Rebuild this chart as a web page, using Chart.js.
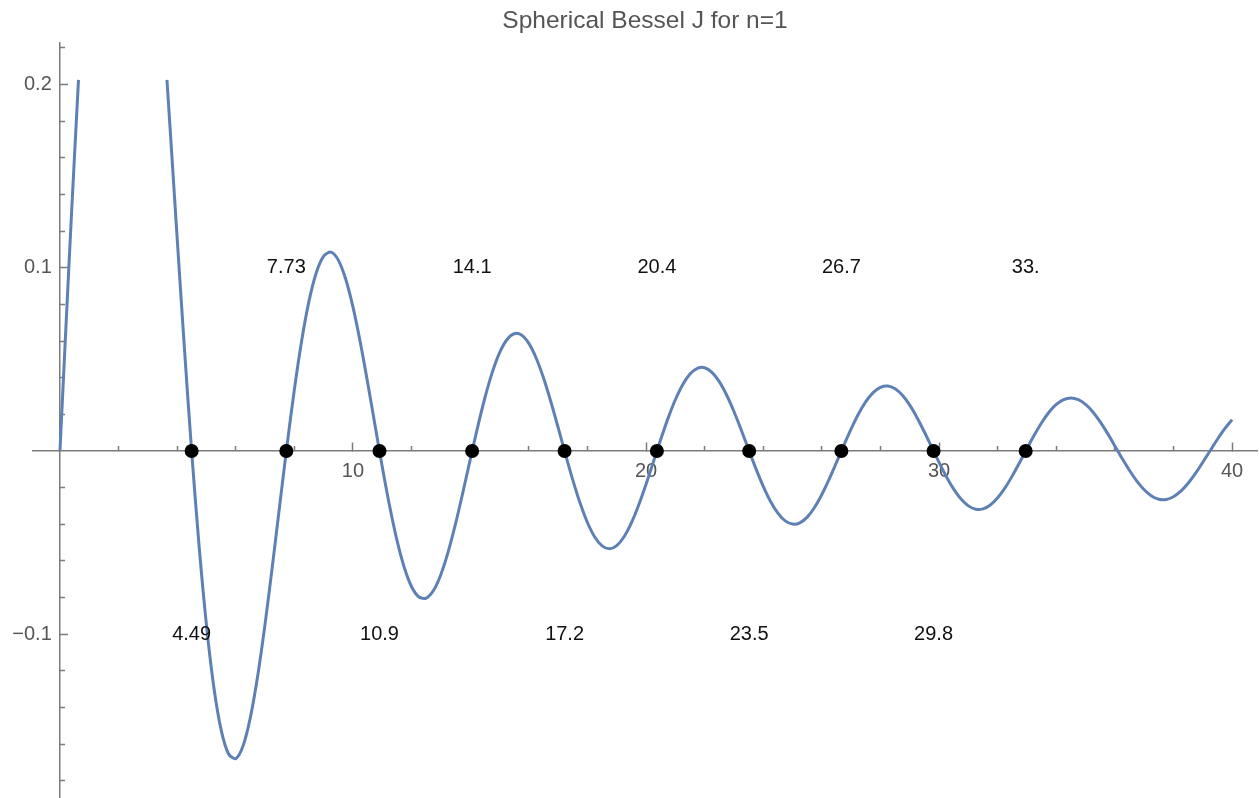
<!DOCTYPE html>
<html>
<head>
<meta charset="utf-8">
<title>Spherical Bessel J for n=1</title>
<script src="https://cdn.jsdelivr.net/npm/chart.js@4.4.1/dist/chart.umd.min.js"></script>
<style>
  html, body { margin: 0; padding: 0; background: #fff; }
  canvas { display: block; }
</style>
</head>
<body>
<canvas id="besselChart" width="1259" height="798"></canvas>
<script>
// curve, clipped at the top of the plot range (gap = null)
const besselX = [
	0, 0.2, 0.4, 0.6325, 2, 3.651, 3.75,
	4, 4.25, 4.5, 4.75, 5, 5.25, 5.5, 5.75, 6, 6.25, 6.5, 6.75,
	7, 7.25, 7.5, 7.75, 8, 8.25, 8.5, 8.75, 9, 9.25, 9.5, 9.75,
	10, 10.25, 10.5, 10.75, 11, 11.25, 11.5, 11.75, 12, 12.25, 12.5, 12.75,
	13, 13.25, 13.5, 13.75, 14, 14.25, 14.5, 14.75, 15, 15.25, 15.5, 15.75,
	16, 16.25, 16.5, 16.75, 17, 17.25, 17.5, 17.75, 18, 18.25, 18.5, 18.75,
	19, 19.25, 19.5, 19.75, 20, 20.25, 20.5, 20.75, 21, 21.25, 21.5, 21.75,
	22, 22.25, 22.5, 22.75, 23, 23.25, 23.5, 23.75, 24, 24.25, 24.5, 24.75,
	25, 25.25, 25.5, 25.75, 26, 26.25, 26.5, 26.75, 27, 27.25, 27.5, 27.75,
	28, 28.25, 28.5, 28.75, 29, 29.25, 29.5, 29.75, 30, 30.25, 30.5, 30.75,
	31, 31.25, 31.5, 31.75, 32, 32.25, 32.5, 32.75, 33, 33.25, 33.5, 33.75,
	34, 34.25, 34.5, 34.75, 35, 35.25, 35.5, 35.75, 36, 36.25, 36.5, 36.75,
	37, 37.25, 37.5, 37.75, 38, 38.25, 38.5, 38.75, 39, 39.25, 39.5, 39.75,
	40,
]
const besselY = [
	0, 0.0664, 0.1312, 0.2025, null, 0.2025, 0.1782,
	0.11611, 0.05541, -0.00143, -0.05221, -0.09509, -0.1287, -0.15217, -0.16515, -0.16779, -0.16076, -0.14515, -0.12242,
	-0.09429, -0.06268, -0.02954, 0.00317, 0.03365, 0.06031, 0.08188, 0.0974, 0.10633, 0.10849, 0.10413, 0.09383,
	0.07847, 0.05919, 0.03731, 0.01422, -0.00867, -0.03002, -0.04865, -0.06357, -0.07405, -0.07965, -0.08025, -0.07599,
	-0.06732, -0.05491, -0.03966, -0.02256, -0.00471, 0.0128, 0.02892, 0.04276, 0.05354, 0.06072, 0.06399, 0.06327,
	0.05873, 0.05076, 0.03996, 0.02704, 0.01286, -0.00169, -0.01573, -0.02841, -0.039, -0.04693, -0.05179, -0.05335,
	-0.05162, -0.04679, -0.03922, -0.02945, -0.01812, -0.00597, 0.00625, 0.0178, 0.02798, 0.03621, 0.04203, 0.04515,
	0.04544, 0.04293, 0.03785, 0.03057, 0.02157, 0.01144, 0.00083, -0.00961, -0.01925, -0.0275, -0.0339, -0.03809,
	-0.03986, -0.03915, -0.03605, -0.0308, -0.02375, -0.01539, -0.00623, 0.00313, 0.01213, 0.02022, 0.02692, 0.03185,
	0.03472, 0.03542, 0.03392, 0.03037, 0.02501, 0.0182, 0.01039, 0.00207, -0.00624, -0.01403, -0.02082, -0.02623,
	-0.02993, -0.03173, -0.03155, -0.02943, -0.02553, -0.02012, -0.01356, -0.00625, 0.00132, 0.0087, 0.01543, 0.02112,
	0.02542, 0.02809, 0.02899, 0.02809, 0.02547, 0.02132, 0.01592, 0.00961, 0.00279, -0.0041, -0.01065, -0.01645,
	-0.02116, -0.0245, -0.02628, -0.02642, -0.02493, -0.02192, -0.0176, -0.01224, -0.0062, 0.00014, 0.0064, 0.01218,
	0.01714,
]

// zeros of j1 with their labels (alternating below / above the axis)
const zeroX = [4.493, 7.725, 10.904, 14.066, 17.221, 20.371, 23.52, 26.666, 29.812, 32.956]
const zeroLabels = ['4.49', '7.73', '10.9', '14.1', '17.2', '20.4', '23.5', '26.7', '29.8', '33.']
const zeroLabelY = [-0.1, 0.1, -0.1, 0.1, -0.1, 0.1, -0.1, 0.1, -0.1, 0.1]

const xMajorTicks = [10, 20, 30, 40]
const xMajorLabels = ['10', '20', '30', '40']
const xMinorTicks = [2, 4, 6, 8, 12, 14, 16, 18, 22, 24, 26, 28, 32, 34, 36, 38]
const yMajorTicks = [-0.1, 0.1, 0.2]
const yMajorLabels = ['\u22120.1', '0.1', '0.2']
const yMinorTicks = [-0.18, -0.16, -0.14, -0.12, -0.08, -0.06, -0.04, -0.02, 0.02, 0.04, 0.06, 0.08, 0.12, 0.14, 0.16, 0.18, 0.22]

const FONT = "'Liberation Sans', Arial, Helvetica, sans-serif"
const AXIS_COLOR = '#7b7b7b'
const LABEL_COLOR = '#555'
const CURVE_COLOR = '#5e81b5'
const X_MIN = -0.92
const X_MAX = 40.85
const Y_MIN = -0.1893
const Y_MAX = 0.2226

const setTicks = values => scale => {
	scale.ticks = values.map(v => ({ value: v }))
}
const labelFor = (values, labels) => value => {
	const i = values.indexOf(value)
	return i > -1 ? labels[i] : ''
}
// axes sit inside the plot, so their label overhang must not shrink the chart area
const noPadding = scale => {
	scale.paddingTop = 0
	scale.paddingBottom = 0
	scale.paddingLeft = 0
	scale.paddingRight = 0
}

const tickGrid = len => ({
	display: true,
	drawOnChartArea: false,
	drawTicks: true,
	tickLength: len,
	tickColor: AXIS_COLOR,
	tickWidth: 1.5,
})

const zeroLabelPlugin = {
	id: 'zeroLabels',
	afterDatasetsDraw(chart) {
		const { ctx, scales } = chart
		ctx.save()
		ctx.font = `20px ${FONT}`
		ctx.fillStyle = '#111'
		ctx.textAlign = 'center'
		ctx.textBaseline = 'middle'
		zeroX.forEach((x, i) => {
			ctx.fillText(zeroLabels[i], scales.x.getPixelForValue(x), scales.y.getPixelForValue(zeroLabelY[i]))
		})
		ctx.restore()
	},
}

const curve = besselX.map((x, i) => ({ x, y: besselY[i] }))
const zeros = zeroX.map(x => ({ x, y: 0 }))

new Chart(document.getElementById('besselChart'), {
	type: 'scatter',
	data: {
		datasets: [
			{
				label: 'zeros',
				data: zeros,
				pointRadius: 7,
				pointBackgroundColor: '#000',
				pointBorderWidth: 0,
				showLine: false,
				order: 0,
			},
			{
				label: 'j1',
				data: curve,
				showLine: true,
				spanGaps: false,
				pointRadius: 0,
				borderColor: CURVE_COLOR,
				borderWidth: 3,
				tension: 0.3,
				order: 1,
			},
		],
	},
	options: {
		responsive: false,
		animation: false,
		events: [],
		layout: { autoPadding: false, padding: { left: 33, right: 2, top: 0, bottom: 0 } },
		plugins: {
			legend: { display: false },
			tooltip: { enabled: false },
			title: {
				display: true,
				text: 'Spherical Bessel J for n=1',
				color: LABEL_COLOR,
				font: { family: FONT, size: 24.5, weight: 'normal' },
				padding: { top: 7, bottom: 6.6 },
			},
		},
		scales: {
			x: {
				type: 'linear',
				min: X_MIN,
				max: X_MAX,
				position: { y: 0 },
				afterBuildTicks: setTicks(xMajorTicks),
				afterFit: noPadding,
				grid: tickGrid(-9),
				border: { display: true, color: AXIS_COLOR, width: 1.5 },
				ticks: {
					callback: labelFor(xMajorTicks, xMajorLabels),
					color: LABEL_COLOR,
					font: { family: FONT, size: 20 },
					padding: 17,
					maxRotation: 0,
					autoSkip: false,
				},
			},
			xMinor: {
				type: 'linear',
				axis: 'x',
				min: X_MIN,
				max: X_MAX,
				position: { y: 0 },
				afterBuildTicks: setTicks(xMinorTicks),
				grid: tickGrid(-5),
				border: { display: false },
				ticks: { display: false },
			},
			y: {
				type: 'linear',
				min: Y_MIN,
				max: Y_MAX,
				position: { x: 0 },
				afterBuildTicks: setTicks(yMajorTicks),
				grid: tickGrid(-9),
				border: { display: true, color: AXIS_COLOR, width: 1.5 },
				ticks: { display: false },
			},
			yMinor: {
				type: 'linear',
				axis: 'y',
				min: Y_MIN,
				max: Y_MAX,
				position: { x: 0 },
				afterBuildTicks: setTicks(yMinorTicks),
				grid: tickGrid(-5),
				border: { display: false },
				ticks: { display: false },
			},
			yLabels: {
				type: 'linear',
				axis: 'y',
				min: Y_MIN,
				max: Y_MAX,
				position: { x: -0.28 },
				afterBuildTicks: setTicks(yMajorTicks),
				afterFit: noPadding,
				grid: { display: false, drawTicks: false },
				border: { display: false },
				ticks: {
					callback: labelFor(yMajorTicks, yMajorLabels),
					color: LABEL_COLOR,
					font: { family: FONT, size: 20 },
					padding: 0,
					autoSkip: false,
				},
			},
		},
	},
	plugins: [zeroLabelPlugin],
})
</script>
</body>
</html>
